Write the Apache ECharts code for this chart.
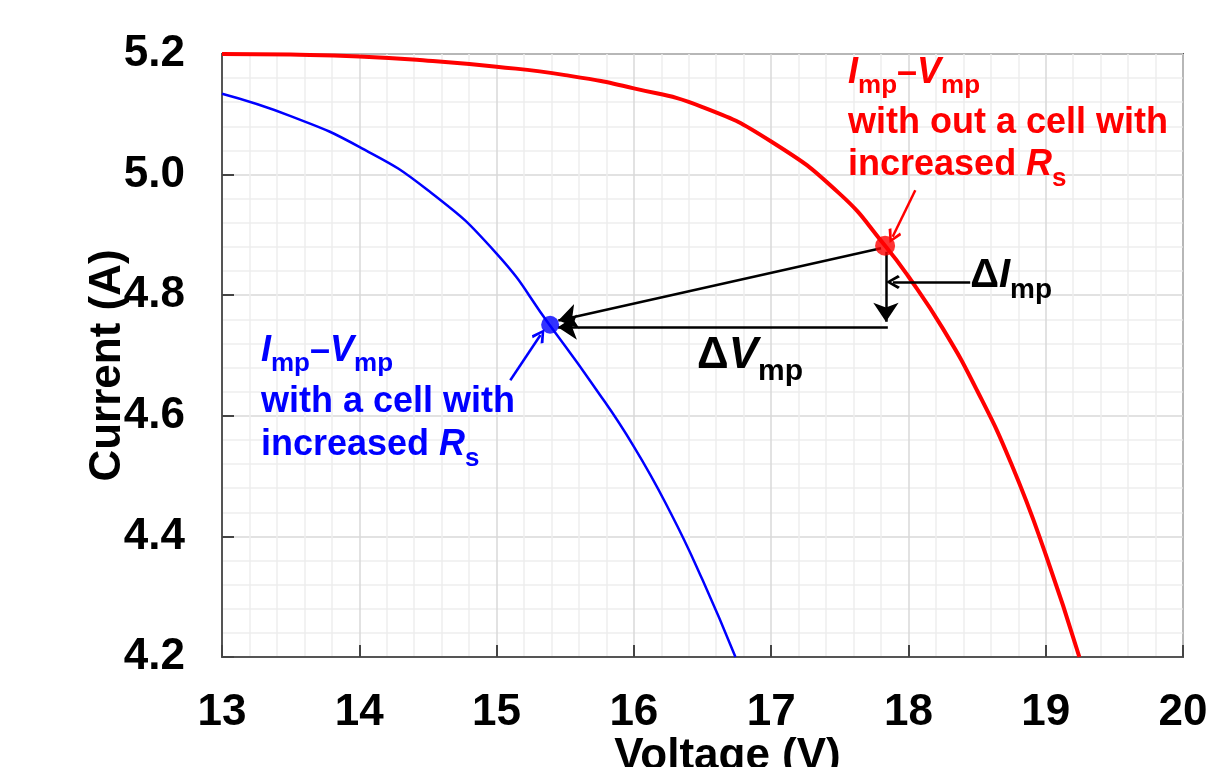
<!DOCTYPE html>
<html>
<head>
<meta charset="utf-8">
<script src="https://cdn.jsdelivr.net/npm/echarts@6/dist/echarts.min.js"></script>
<style>
  html, body { margin: 0; padding: 0; background: #fff; }
  #main { width: 1215px; height: 767px; }
</style>
</head>
<body>
<div id="main"></div>
<script>
// I-V curves: [voltage (V), current (A)]
const curveWithout = [
  [13.0, 5.200], [13.5, 5.199], [14.0, 5.196], [14.5, 5.189], [15.0, 5.179],
  [15.5, 5.165], [16.0, 5.143], [16.5, 5.112], [17.0, 5.055], [17.5, 4.968],
  [17.83, 4.882], [18.0, 4.831], [18.25, 4.745], [18.5, 4.642], [18.75, 4.520],
  [19.0, 4.370], [19.245, 4.200]
];
const curveWith = [
  [13.0, 5.134], [13.5, 5.097], [14.0, 5.046], [14.5, 4.974], [15.0, 4.869],
  [15.385, 4.751], [15.7, 4.652], [16.0, 4.549], [16.27, 4.438], [16.5, 4.328],
  [16.74, 4.200]
];
// maximum power points
const mppWithout = [17.83, 4.882];
const mppWith = [15.39, 4.751];

// arrows (data coords, from -> to)
const arrowsBlack = [
  [[17.80, 4.878], [15.45, 4.758]],   // MPP shift
  [[17.836, 4.872], [17.836, 4.756]], // delta I
  [[17.85, 4.747], [15.447, 4.747]]   // delta V
];
const arrowOpenBlack = [[[18.45, 4.822], [17.887, 4.822]]];
const arrowOpenRed = [[[18.05, 4.974], [17.885, 4.897]]];
const arrowOpenBlue = [[[15.10, 4.659], [15.32, 4.734]]];

const xTicks = [13, 20, 1];
const yTicks = [4.2, 5.2, 0.2];

const FONT = "'Liberation Sans', Arial, sans-serif";
const chevron = 'path://M5,0 L10,8.6 L8.4,10 L5,3.6 L1.6,10 L0,8.6 Z';

function lines(data, color, symbol, size) {
  return {
    type: 'lines',
    coordinateSystem: 'cartesian2d',
    polyline: false,
    symbol: ['none', symbol],
    symbolSize: size,
    lineStyle: { color: color, width: 2.5, opacity: 1, curveness: 0 },
    data: data.map(d => ({ coords: d })),
    z: 5,
    silent: true
  };
}

const option = {
  animation: false,
  grid: {
    left: 222, right: 32, top: 54, bottom: 110,
    outerBoundsMode: 'none',
    show: true, borderColor: '#555', borderWidth: 2
  },
  xAxis: {
    type: 'value',
    min: xTicks[0], max: xTicks[1], interval: xTicks[2],
    name: 'Voltage (V)',
    nameLocation: 'middle',
    nameGap: 78,
    nameMoveOverlap: false,
    nameTextStyle: { fontSize: 44, fontWeight: 'bold', color: '#000', fontFamily: FONT, padding: [0, 0, 0, 50] },
    axisLine: { show: true, lineStyle: { color: '#555', width: 2 } },
    axisTick: { show: true, inside: true, length: 12, lineStyle: { color: '#444', width: 2 } },
    axisLabel: { fontSize: 44, fontWeight: 'bold', color: '#000', fontFamily: FONT, margin: 34 },
    splitLine: { show: true, lineStyle: { color: '#d9d9d9', width: 1.5 } },
    minorTick: { show: false, splitNumber: 5 },
    minorSplitLine: { show: true, lineStyle: { color: '#eeeeee', width: 1.5 } }
  },
  yAxis: {
    type: 'value',
    min: yTicks[0], max: yTicks[1], interval: yTicks[2],
    name: 'Current (A)',
    nameLocation: 'middle',
    nameRotate: 90,
    nameGap: 92,
    nameMoveOverlap: false,
    nameTextStyle: { fontSize: 44, fontWeight: 'bold', color: '#000', fontFamily: FONT, padding: [0, 20, 0, 0] },
    axisLine: { show: true, lineStyle: { color: '#555', width: 2 } },
    axisTick: { show: true, inside: true, length: 12, lineStyle: { color: '#444', width: 2 } },
    axisLabel: {
      fontSize: 44, fontWeight: 'bold', color: '#000', fontFamily: FONT, margin: 37,
      formatter: v => v.toFixed(1)
    },
    splitLine: { show: true, lineStyle: { color: '#d9d9d9', width: 1.5 } },
    minorTick: { show: false, splitNumber: 5 },
    minorSplitLine: { show: true, lineStyle: { color: '#eeeeee', width: 1.5 } }
  },
  series: [
    {
      name: 'without', type: 'line', data: curveWithout, smooth: 0.5,
      showSymbol: false, lineStyle: { color: '#ff0000', width: 4 }, z: 3
    },
    {
      name: 'with', type: 'line', data: curveWith, smooth: 0.5,
      showSymbol: false, lineStyle: { color: '#0000ff', width: 2.5 }, z: 3
    },
    {
      type: 'scatter', data: [mppWithout], symbolSize: 20,
      itemStyle: { color: '#ff0000' }, z: 6
    },
    {
      type: 'scatter', data: [mppWith], symbolSize: 18,
      itemStyle: { color: '#0000ff' }, z: 6
    },
    lines(arrowsBlack, '#000', 'arrow', [15, 19]),
    lines(arrowOpenBlack, '#000', chevron, [16, 14]),
    lines(arrowOpenRed, '#ff0000', chevron, [16, 14]),
    lines(arrowOpenBlue, '#0000ff', chevron, [16, 14])
  ]
};

const chart = echarts.init(document.getElementById('main'));
chart.setOption(option);

// annotation text
function rich(size, sub) {
  return {
    n: { fontSize: size, fontWeight: 'bold', fontFamily: FONT },
    i: { fontSize: size, fontWeight: 'bold', fontStyle: 'italic', fontFamily: FONT },
    s: { fontSize: sub, fontWeight: 'bold', fontFamily: FONT, padding: [Math.round(size * 0.72), 0, 0, 0] }
  };
}
function txt(at, text, color, size, sub) {
  const p = chart.convertToPixel({ gridIndex: 0 }, at);
  return {
    type: 'text', x: p[0], y: p[1], z: 10, silent: true,
    style: {
      text: text, fill: color, fontSize: size, fontWeight: 'bold', fontFamily: FONT,
      align: 'left', verticalAlign: 'middle', rich: rich(size, sub)
    }
  };
}
const redNote = [
  [[17.56, 5.168], '{i|I}{s|mp}{n|–}{i|V}{s|mp}'],
  [[17.56, 5.085], '{n|with out a cell with}'],
  [[17.56, 5.015], '{n|increased }{i|R}{s|s}']
];
const blueNote = [
  [[13.284, 4.708], '{i|I}{s|mp}{n|–}{i|V}{s|mp}'],
  [[13.284, 4.622], '{n|with a cell with}'],
  [[13.284, 4.551], '{n|increased }{i|R}{s|s}']
];
const graphic = [];
redNote.forEach(l => graphic.push(txt(l[0], l[1], '#ff0000', 36, 26)));
blueNote.forEach(l => graphic.push(txt(l[0], l[1], '#0000ff', 36, 26)));
graphic.push(txt([18.45, 4.832], '{n|Δ}{i|I}{s|mp}', '#000', 40, 28));
graphic.push(txt([16.46, 4.699], '{n|Δ}{i|V}{s|mp}', '#000', 44, 30));
chart.setOption({ graphic: graphic });
</script>
</body>
</html>
